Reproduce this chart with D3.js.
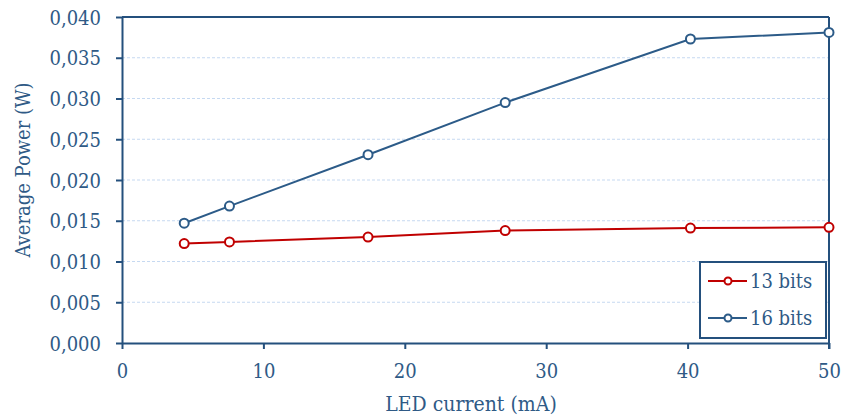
<!DOCTYPE html>
<html>
<head>
<meta charset="utf-8">
<script src="https://cdn.jsdelivr.net/npm/d3@7"></script>
<style>
  html, body { margin: 0; padding: 0; background: #fff; }
  svg text { font-family: "DejaVu Serif Condensed", "DejaVu Serif", serif; }
</style>
</head>
<body>
<svg id="chart" width="844" height="416"></svg>
<script>
// LED current (mA) for each measurement
const current = [4.4, 7.6, 17.4, 27.1, 40.2, 50];
// Average power (W) per resolution
const power13 = [0.0122, 0.0124, 0.0130, 0.0138, 0.0141, 0.0142];
const power16 = [0.0147, 0.0168, 0.0231, 0.0295, 0.0373, 0.0381];
const seriesNames = ["13 bits", "16 bits"];
const xTicks = [0, 10, 20, 30, 40, 50];
const yTicks = [0, 0.005, 0.010, 0.015, 0.020, 0.025, 0.030, 0.035, 0.040];

const axisColor = "#24507d";
const textColor = "#2f5a86";
const colors = ["#c00000", "#2c5b88"];
const font = "DejaVu Serif Condensed, DejaVu Serif, serif";

const svg = d3.select("#chart");
const m = { left: 122, right: 15, top: 17, bottom: 73 };
const W = 844, H = 416;

const x = d3.scaleLinear().domain([0, 50]).range([m.left, W - m.right]);
const y = d3.scaleLinear().domain([0, 0.040]).range([H - m.bottom, m.top]);

// horizontal gridlines
svg.append("g").selectAll("line")
  .data(yTicks.filter(v => v > 0 && v < 0.040))
  .join("line")
  .attr("x1", x(0)).attr("x2", x(50))
  .attr("y1", d => y(d)).attr("y2", d => y(d))
  .attr("stroke", "#c6d9f1").attr("stroke-width", 1)
  .attr("stroke-dasharray", "3,2");

const fmt = v => d3.format(".3f")(v).replace(".", ",");

// left axis
const gy = svg.append("g").attr("transform", `translate(${x(0)},0)`)
  .call(d3.axisLeft(y).tickValues(yTicks).tickFormat(fmt).tickSize(6).tickSizeOuter(0));
// bottom axis
const gx = svg.append("g").attr("transform", `translate(0,${y(0)})`)
  .call(d3.axisBottom(x).tickValues(xTicks).tickSize(6).tickSizeOuter(0));

[gy, gx].forEach(g => {
  g.select(".domain").attr("stroke", axisColor).attr("stroke-width", 2);
  g.selectAll(".tick line").attr("stroke", axisColor).attr("stroke-width", 2);
  g.selectAll(".tick text").attr("fill", textColor).attr("font-size", 20)
    .attr("font-family", font);
});
gy.selectAll(".tick text").attr("x", -21).attr("dy", "0.35em");
gx.selectAll(".tick text").attr("y", 20).attr("dy", "0.75em");

// top and right frame
svg.append("line").attr("x1", x(0)).attr("x2", x(50)).attr("y1", y(0.040)).attr("y2", y(0.040))
  .attr("stroke", axisColor).attr("stroke-width", 2);
svg.append("line").attr("x1", x(50)).attr("x2", x(50)).attr("y1", y(0.040)).attr("y2", y(0))
  .attr("stroke", axisColor).attr("stroke-width", 2);
// tick at x=50 drawn with the frame
svg.append("line").attr("x1", x(50)).attr("x2", x(50)).attr("y1", y(0)).attr("y2", y(0) + 6)
  .attr("stroke", axisColor).attr("stroke-width", 2);

// axis titles
svg.append("text").attr("x", 471).attr("y", 411)
  .attr("text-anchor", "middle").attr("fill", textColor).attr("font-size", 21)
  .text("LED current (mA)");
svg.append("text").attr("transform", `translate(30,170) rotate(-90)`)
  .attr("text-anchor", "middle").attr("fill", textColor).attr("font-size", 20)
  .text("Average Power (W)");

// series
const series = [power13, power16];
const line = d3.line().x((d, i) => x(current[i])).y(d => y(d));
series.forEach((vals, k) => {
  svg.append("path").datum(vals).attr("d", line)
    .attr("fill", "none").attr("stroke", colors[k]).attr("stroke-width", 2);
  svg.append("g").selectAll("circle").data(vals).join("circle")
    .attr("cx", (d, i) => x(current[i])).attr("cy", d => y(d)).attr("r", 4.5)
    .attr("fill", "#fff").attr("stroke", colors[k]).attr("stroke-width", 2);
});

// legend
const lg = svg.append("g");
lg.append("rect").attr("x", 700).attr("y", 262).attr("width", 126).attr("height", 76)
  .attr("fill", "#fff").attr("stroke", axisColor).attr("stroke-width", 2);
seriesNames.forEach((name, k) => {
  const cy = 281 + k * 37;
  lg.append("line").attr("x1", 708).attr("x2", 747).attr("y1", cy).attr("y2", cy)
    .attr("stroke", colors[k]).attr("stroke-width", 2);
  lg.append("circle").attr("cx", 728).attr("cy", cy).attr("r", 3.5)
    .attr("fill", "#fff").attr("stroke", colors[k]).attr("stroke-width", 2);
  lg.append("text").attr("x", 750).attr("y", cy).attr("dy", "0.35em")
    .attr("fill", textColor).attr("font-size", 20).text(name);
});
</script>
</body>
</html>
